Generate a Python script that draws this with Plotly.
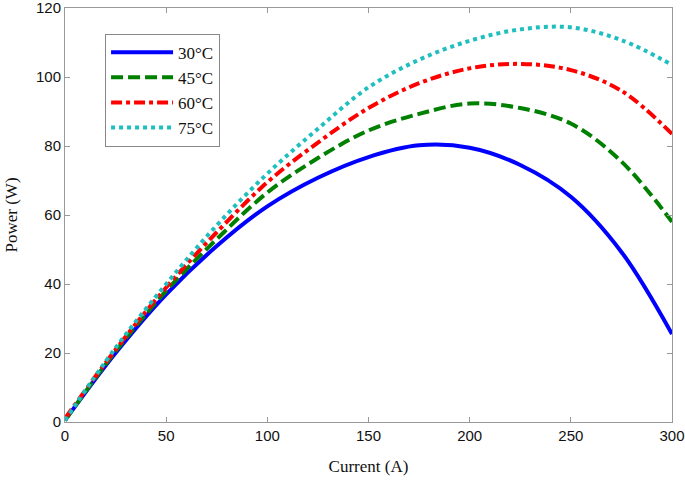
import plotly.graph_objects as go

current = [0, 25, 50, 75, 100, 125, 150, 175, 200, 225, 250, 275, 300]
p30 = [0.5, 20, 37, 51, 62.5, 70.8, 76.8, 80.2, 79.5, 74.5, 65.3, 49.3, 25.5]
p45 = [0.5, 20.5, 38, 53, 66.5, 76.5, 84.5, 89.3, 92.3, 91, 86.5, 75.5, 58]
p60 = [1, 21, 39, 55, 69.5, 81, 91, 98.2, 102.5, 103.8, 102, 96, 83.5]
p75 = [0.5, 21.5, 40, 57, 72, 85, 97, 105, 110.5, 113.8, 114.4, 110.7, 103.5]

series = [
    ("30°C", p30, "#0000ff", "solid"),
    ("45°C", p45, "#008000", "12px,5px"),
    ("60°C", p60, "#ff0000", "11px,4px,4px,4px"),
    ("75°C", p75, "#1fbfbf", "4px,4px"),
]

fig = go.Figure()
for name, ys, col, dash in series:
    fig.add_trace(go.Scatter(x=current, y=ys, name=name, mode="lines",
                             line=dict(color=col, width=4, dash=dash, shape="spline", smoothing=1)))

axis_common = dict(showline=True, linecolor="#999999", linewidth=1, mirror="ticks",
                   ticks="inside", ticklen=5, tickcolor="#999999", showgrid=False,
                   zeroline=False, automargin=False, ticklabeloverflow="allow",
                   tickfont=dict(family="Liberation Sans, Arial", size=15, color="#111111"))

fig.update_xaxes(range=[0, 300], tickvals=[0, 50, 100, 150, 200, 250, 300],
                 title=dict(text="Current (A)", font=dict(family="Liberation Serif, Times New Roman", size=17, color="#111111"), standoff=17),
                 **axis_common)
fig.update_yaxes(range=[0, 120], tickvals=[0, 20, 40, 60, 80, 100, 120],
                 title=dict(text="Power (W)", font=dict(family="Liberation Serif, Times New Roman", size=17, color="#111111"), standoff=14),
                 **axis_common)

fig.update_layout(
    width=685, height=482,
    margin=dict(l=65, r=13, t=8, b=60),
    plot_bgcolor="white", paper_bgcolor="white",
    legend=dict(x=0.066, y=0.938, xanchor="left", yanchor="top",
                bgcolor="white", bordercolor="#888888", borderwidth=1,
                font=dict(family="Liberation Serif, Times New Roman", size=17, color="#111111"),
                itemwidth=62),
    showlegend=True,
)

fig.write_html("out.html", config={"displayModeBar": False},
               post_script="document.body.style.margin='0';")
